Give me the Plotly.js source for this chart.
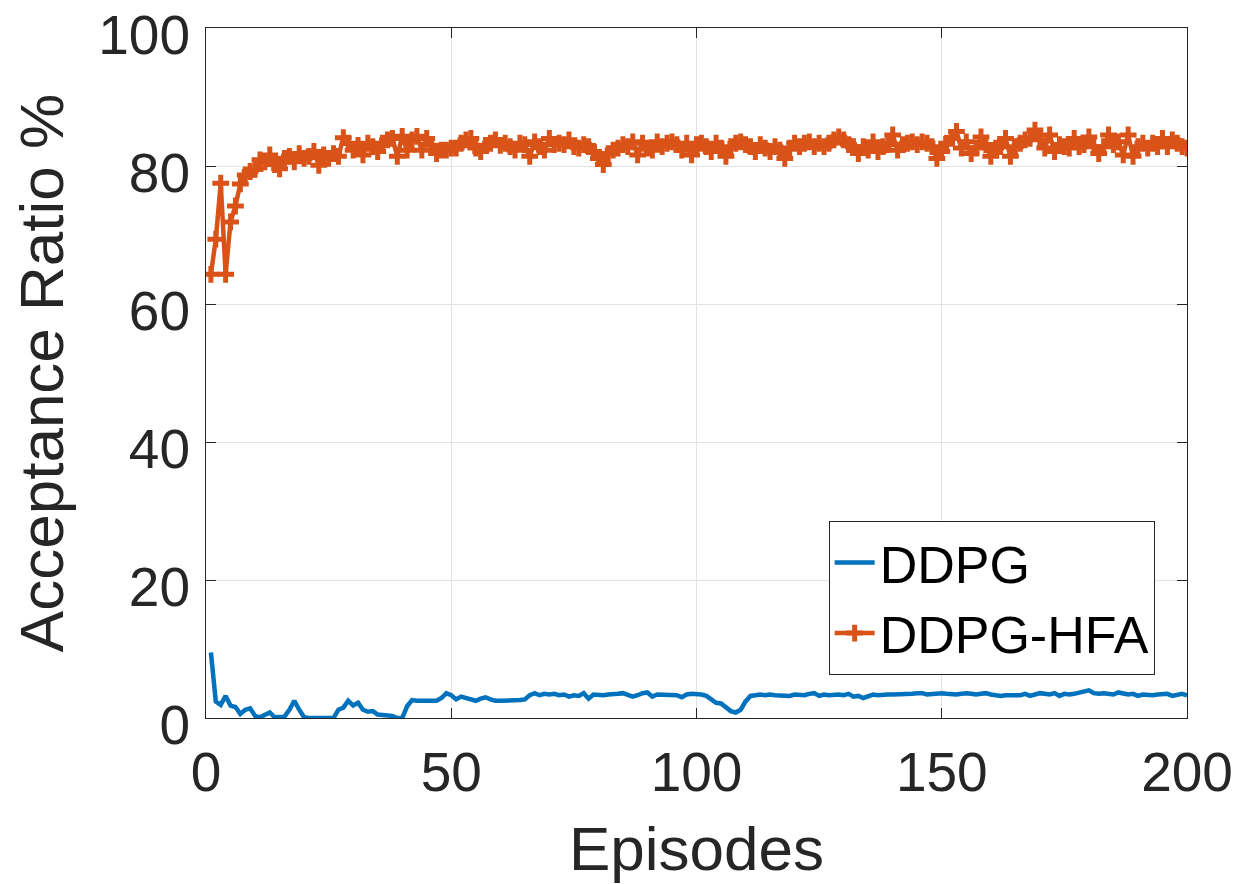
<!DOCTYPE html>
<html>
<head>
<meta charset="utf-8">
<script src="https://cdn.plot.ly/plotly-3.0.1.min.js"></script>
<style>html,body{margin:0;padding:0;background:#fff;}#chart{width:1256px;height:884px;}</style>
</head>
<body>
<div id="chart"></div>
<script>
// Episode numbers (x categories)
const episodes = Array.from({length: 200}, (_, i) => i + 1);

// DDPG acceptance ratio (%) per episode
const ddpg = [
  9.5, 2.4, 1.9, 3.2, 1.8, 1.6, 0.6, 1.2, 1.4, 0.3,
  0.1, 0.4, 0.8, 0.1, 0.1, 0.2, 1.2, 2.5, 1.2, 0.1,
  0.0, 0.0, 0.0, 0.0, 0.0, 0.0, 1.2, 1.5, 2.5, 1.8,
  2.2, 1.2, 0.9, 1.0, 0.5, 0.4, 0.4, 0.3, 0.0, 0.0,
  1.7, 2.6, 2.5, 2.5, 2.5, 2.5, 2.5, 2.9, 3.6, 3.3,
  2.7, 3.1, 2.9, 2.6, 2.5, 2.8, 3.0, 2.7, 2.5, 2.5,
  2.5, 2.5, 2.5, 2.6, 2.7, 3.3, 3.6, 3.3, 3.5, 3.4,
  3.5, 3.3, 3.4, 3.1, 3.3, 3.2, 3.6, 2.8, 3.4, 3.3,
  3.3, 3.4, 3.4, 3.5, 3.6, 3.3, 3.1, 3.3, 3.6, 3.7,
  3.1, 3.4, 3.4, 3.4, 3.4, 3.3, 3.0, 3.4, 3.5, 3.5,
  3.4, 3.2, 2.7, 2.2, 2.1, 1.6, 1.0, 0.8, 1.2, 2.4,
  3.2, 3.3, 3.4, 3.3, 3.4, 3.3, 3.3, 3.3, 3.2, 3.4,
  3.4, 3.3, 3.5, 3.6, 3.2, 3.4, 3.3, 3.4, 3.4, 3.3,
  3.5, 3.1, 3.2, 2.9, 3.1, 3.4, 3.3, 3.4, 3.4, 3.4,
  3.4, 3.4, 3.5, 3.5, 3.6, 3.6, 3.4, 3.5, 3.5, 3.6,
  3.5, 3.4, 3.4, 3.5, 3.6, 3.5, 3.4, 3.5, 3.6, 3.4,
  3.3, 3.2, 3.3, 3.3, 3.4, 3.3, 3.5, 3.2, 3.4, 3.6,
  3.5, 3.4, 3.6, 3.2, 3.5, 3.4, 3.5, 3.7, 3.9, 4.0,
  3.6, 3.5, 3.6, 3.5, 3.4, 3.7, 3.6, 3.4, 3.5, 3.2,
  3.4, 3.3, 3.3, 3.4, 3.5, 3.5, 3.2, 3.4, 3.5, 3.3
];

// DDPG-HFA acceptance ratio (%) per episode
const ddpgHfa = [
  64.3, 69.4, 77.5, 64.3, 71.9, 74.2, 77.4, 78.7, 79.2, 79.5,
  80.9, 80.6, 81.6, 80.2, 79.6, 81.1, 81.4, 80.6, 81.8, 81.1,
  81.4, 82.1, 80.1, 81.6, 81.1, 81.8, 81.4, 84.1, 83.3, 82.3,
  83.0, 81.6, 83.3, 82.8, 82.1, 83.3, 83.8, 84.0, 81.4, 84.3,
  82.3, 83.8, 84.3, 82.3, 84.0, 83.0, 81.8, 82.3, 82.3, 82.6,
  82.6, 83.3, 83.8, 84.0, 82.6, 82.1, 83.0, 83.3, 83.8, 83.0,
  83.3, 82.8, 82.3, 83.3, 83.1, 81.4, 83.5, 82.8, 82.3, 84.0,
  83.1, 83.3, 83.1, 83.8, 82.8, 82.6, 83.1, 82.8, 82.1, 81.1,
  80.2, 81.8, 82.3, 82.6, 83.1, 82.8, 83.5, 81.6, 83.3, 82.6,
  82.3, 83.5, 82.8, 83.3, 83.5, 83.1, 82.3, 83.3, 81.6, 83.1,
  83.3, 82.8, 82.1, 83.3, 82.6, 81.4, 82.8, 83.3, 83.5, 83.1,
  82.8, 82.1, 83.1, 82.6, 82.1, 82.8, 82.3, 81.1, 82.6, 83.3,
  82.8, 83.3, 83.5, 82.8, 83.3, 82.8, 83.3, 83.8, 84.2, 83.8,
  83.1, 82.8, 81.8, 82.8, 82.3, 83.5, 82.1, 82.8, 83.1, 84.5,
  82.3, 83.1, 83.3, 83.5, 83.1, 83.5, 83.3, 82.8, 81.1, 82.1,
  83.3, 84.0, 85.0, 82.6, 83.5, 81.8, 82.6, 84.2, 83.1, 81.4,
  82.6, 82.8, 84.0, 81.4, 82.8, 83.3, 83.8, 84.0, 85.2, 83.8,
  82.6, 84.5, 82.1, 83.1, 82.8, 82.6, 84.0, 82.8, 83.1, 84.2,
  82.8, 81.8, 82.8, 84.5, 83.1, 83.5, 81.6, 84.5, 81.4, 82.8,
  83.3, 82.6, 83.3, 82.8, 84.0, 82.8, 83.8, 83.3, 82.8, 82.6
];

const xTicks = [0, 50, 100, 150, 200];
const yTicks = [0, 20, 40, 60, 80, 100];
const seriesNames = ['DDPG', 'DDPG-HFA'];

const FONT = 'Liberation Sans, Arial, Helvetica, sans-serif';
const AX = '#262626';

const traces = [
  {
    x: episodes, y: ddpg, name: seriesNames[0], type: 'scatter', mode: 'lines',
    line: {color: '#0072BD', width: 4.5}
  },
  {
    x: episodes, y: ddpgHfa, name: seriesNames[1], type: 'scatter', mode: 'lines+markers',
    line: {color: '#D95319', width: 4.5},
    marker: {symbol: 'cross-thin', size: 12, color: '#D95319', line: {color: '#D95319', width: 5}}
  }
];

const axisCommon = {
  showgrid: true, gridcolor: '#e3e3e3', gridwidth: 1,
  zeroline: false, showline: true, linecolor: AX, linewidth: 1, mirror: 'ticks',
  ticks: 'inside', ticklen: 10, tickcolor: AX, tickwidth: 1,
  ticklabeloverflow: 'allow',
  tickfont: {family: FONT, size: 55, color: AX}
};

const layout = {
  width: 1256, height: 884,
  margin: {l: 206, r: 69, t: 28, b: 166},
  paper_bgcolor: '#fff', plot_bgcolor: '#fff',
  showlegend: true,
  xaxis: Object.assign({}, axisCommon, {
    range: [0, 200], tickvals: xTicks, ticktext: xTicks.map(String),
    ticklabelstandoff: 6,
    title: {text: 'Episodes', font: {family: FONT, size: 62, color: AX}, standoff: 24}
  }),
  yaxis: Object.assign({}, axisCommon, {
    range: [0, 100], tickvals: yTicks, ticktext: yTicks.map(String),
    ticklabelstandoff: 4, ticklabelshift: 7,
    title: {text: 'Acceptance Ratio %', font: {family: FONT, size: 62, color: AX}, standoff: 14}
  }),
  legend: {
    x: 0.967, y: 0.062, xanchor: 'right', yanchor: 'bottom',
    bgcolor: '#fff', bordercolor: AX, borderwidth: 1,
    font: {family: FONT, size: 52, color: '#000'},
    itemwidth: 40,
    tracegroupgap: 0
  }
};

Plotly.newPlot('chart', traces, layout, {displayModeBar: false, staticPlot: true});
</script>
</body>
</html>
